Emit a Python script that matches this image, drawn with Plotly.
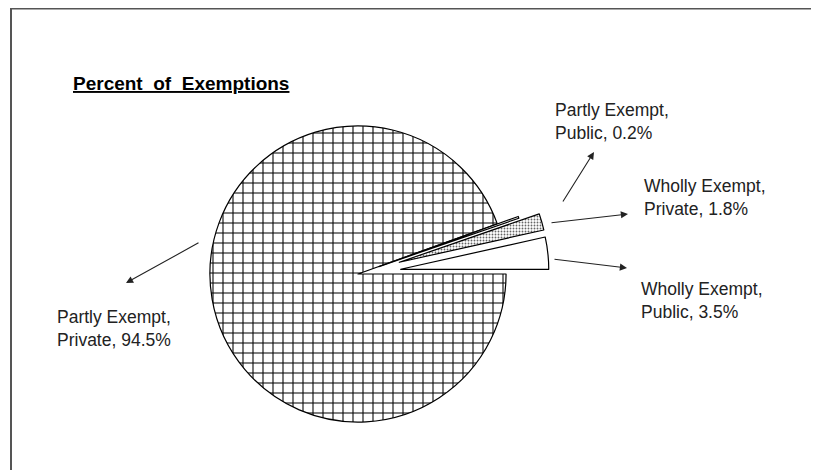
import plotly.graph_objects as go

# slice data, clockwise from 3 o'clock
labels = ["Partly Exempt, Private", "Partly Exempt, Public",
          "Wholly Exempt, Private", "Wholly Exempt, Public"]
values = [94.5, 0.2, 1.8, 3.5]
pulls = [0.0, 0.15, 0.29, 0.29]
patterns = ["+", "", ".", ""]

label_text = ["Partly Exempt,<br>Private, 94.5%", "Partly Exempt,<br>Public, 0.2%",
              "Wholly Exempt,<br>Private, 1.8%", "Wholly Exempt,<br>Public, 3.5%"]

# the page body has an 8px margin, so the figure sits at (8, 8) in the window
OFF = 8
W, H = 819 - OFF, 470 - OFF
FONT = "Liberation Sans, Arial, sans-serif"


def px_x(x):
    return (x - OFF) / W


def px_y(y):
    return 1 - (y - OFF) / H


# pie centre and half-size of its domain box, in window pixels
CX, CY, HALF = 358, 274, 191

fig = go.Figure(go.Pie(
    labels=labels,
    values=values,
    pull=pulls,
    sort=False,
    direction="clockwise",
    rotation=90,
    textinfo="none",
    hoverinfo="label+percent",
    showlegend=False,
    marker=dict(
        colors=["white"] * 4,
        line=dict(color="black", width=1.2),
        pattern=dict(shape=patterns, fgcolor=["black", "black", "#666", "black"],
                     bgcolor="white", size=[10, 8, 3, 8],
                     solidity=[0.2, 0.2, 0.3, 0.2], fillmode="replace"),
    ),
    domain=dict(x=[px_x(CX - HALF), px_x(CX + HALF)],
                y=[px_y(CY + HALF), px_y(CY - HALF)]),
))

annotations = []

# title
annotations.append(dict(
    x=px_x(71), y=px_y(83), xref="paper", yref="paper", xanchor="left", yanchor="middle",
    text="<b><u>Percent  of  Exemptions</u></b>", showarrow=False,
    font=dict(family=FONT, size=19, color="black"),
))

# slice labels (left x, middle y) in window pixels
label_pos = [(55, 328), (553, 122), (642, 198), (639, 300)]
for txt, (lx, ly) in zip(label_text, label_pos):
    annotations.append(dict(
        x=px_x(lx), y=px_y(ly), xref="paper", yref="paper", xanchor="left", yanchor="middle",
        align="left", text=txt, showarrow=False,
        font=dict(family=FONT, size=17.5, color="#222"),
    ))

# arrows from the pie out to the labels: head, then tail
arrows = [((126, 283), (200, 242)), ((594, 152), (562, 203)),
          ((628, 214), (550, 223)), ((627, 268), (553, 259))]
for (hx, hy), (tx, ty) in arrows:
    annotations.append(dict(
        x=px_x(hx), y=px_y(hy), xref="paper", yref="paper",
        ax=tx - hx, ay=ty - hy, text="", showarrow=True,
        arrowhead=2, arrowsize=1.3, arrowwidth=1.1, arrowcolor="#222", standoff=0,
    ))

fig.update_layout(
    width=W, height=H,
    margin=dict(l=0, r=0, t=0, b=0),
    paper_bgcolor="white", plot_bgcolor="white",
    annotations=annotations,
    shapes=[dict(type="rect", xref="paper", yref="paper",
                 x0=px_x(11), x1=1.05, y0=-0.05, y1=px_y(8.5),
                 line=dict(color="#555", width=2))],
)

fig.write_html("out.html")
